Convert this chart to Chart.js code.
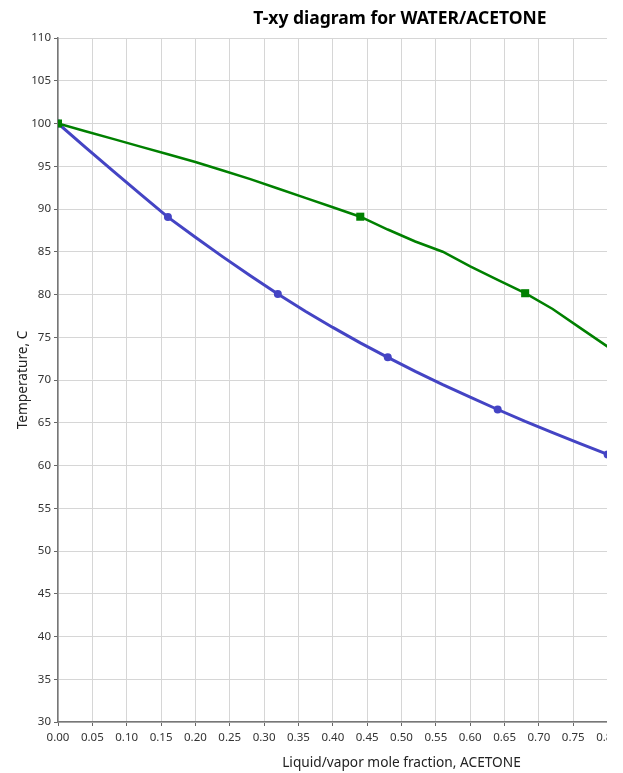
<!DOCTYPE html>
<html>
<head>
<meta charset="utf-8">
<title>T-xy diagram for WATER/ACETONE</title>
<script src="https://cdn.jsdelivr.net/npm/chart.js@4.4.1/dist/chart.umd.min.js"></script>
<style>
    html, body { margin: 0; padding: 0; background: #fff; overflow: hidden; }
    /* the original picture is cut off just right of x = 0.80 */
    #clip { width: 607px; height: 773px; overflow: hidden; }
    #chart-box { width: 800px; height: 773px; }
</style>
</head>
<body>
<div id="clip"><div id="chart-box"><canvas id="txy_chart" width="800" height="773"></canvas></div></div>
<script>
// liquid (bubble point) curve
const liquidX = [0.00, 0.04, 0.08, 0.12, 0.16, 0.20, 0.24, 0.28, 0.32, 0.36, 0.40,
                 0.44, 0.48, 0.52, 0.56, 0.60, 0.64, 0.68, 0.72, 0.76, 0.80];
const liquidT = [100.0, 97.2, 94.45, 91.75, 89.05, 86.7, 84.4, 82.2, 80.05, 78.05, 76.15,
                 74.35, 72.65, 71.0, 69.45, 68.0, 66.55, 65.15, 63.85, 62.55, 61.3];
const liquidMarkers = [0, 4, 8, 12, 16, 20];

// vapor (dew point) curve
const vaporX = [0.00, 0.04, 0.08, 0.12, 0.16, 0.20, 0.24, 0.28, 0.32, 0.36, 0.40,
                0.44, 0.48, 0.52, 0.56, 0.60, 0.64, 0.68, 0.72, 0.76, 0.80];
const vaporT = [100.0, 99.1, 98.2, 97.3, 96.4, 95.5, 94.5, 93.5, 92.4, 91.3, 90.2,
                89.1, 87.6, 86.2, 85.0, 83.3, 81.7, 80.15, 78.3, 76.1, 73.9];
const vaporMarkers = [0, 11, 17];

// axes
const xMin = 0, xMax = 1, xStep = 0.05;
const yMin = 30, yMax = 110, yStep = 5;

const FONT = "'Noto Sans', 'Open Sans', sans-serif";

const toPoints = (xs, ts) => xs.map((x, i) => ({ x: x, y: ts[i] }));

const onload = () => {
    const ctx = document.getElementById("txy_chart").getContext("2d");
    new Chart(ctx, {
        type: "scatter",
        data: {
            datasets: [{
                label: "Liquid",
                data: toPoints(liquidX, liquidT),
                showLine: true,
                order: 1,
                borderColor: "rgb(68, 68, 196)",
                backgroundColor: "rgb(68, 68, 196)",
                borderWidth: 3,
                pointStyle: "circle",
                pointRadius: c => liquidMarkers.includes(c.dataIndex) ? 4 : 0,
                pointBorderWidth: 0
            }, {
                label: "Vapor",
                data: toPoints(vaporX, vaporT),
                showLine: true,
                order: 0,
                borderColor: "rgb(0, 128, 0)",
                backgroundColor: "rgb(0, 128, 0)",
                borderWidth: 2.5,
                pointStyle: "rect",
                pointRadius: c => vaporMarkers.includes(c.dataIndex) ? 5.7 : 0,
                pointBorderWidth: 0
            }]
        },
        options: {
            responsive: false,
            animation: false,
            layout: { padding: 0 },
            plugins: {
                legend: { display: false },
                tooltip: { enabled: false },
                title: {
                    display: true,
                    text: "T-xy diagram for WATER/ACETONE",
                    color: "#000",
                    font: { family: FONT, size: 17.5, weight: "bold" },
                    padding: { top: 9, bottom: 8 }
                }
            },
            scales: {
                x: {
                    type: "linear",
                    min: xMin,
                    max: xMax,
                    afterFit: scale => {
                        scale.height = 51;
                        scale.paddingRight = 55;
                    },
                    ticks: {
                        stepSize: xStep,
                        autoSkip: false,
                        maxRotation: 0,
                        padding: 5,
                        color: "#333",
                        font: { family: FONT, size: 11.5 },
                        callback: v => v.toFixed(2)
                    },
                    grid: {
                        color: "#d6d6d6",
                        tickColor: "#666",
                        tickLength: 4
                    },
                    border: { color: "#777", width: 1.5 },
                    title: {
                        display: true,
                        text: "Liquid/vapor mole fraction, ACETONE",
                        color: "#222",
                        font: { family: FONT, size: 13.7 },
                        padding: { top: 4, bottom: 2 }
                    }
                },
                y: {
                    type: "linear",
                    min: yMin,
                    max: yMax,
                    afterFit: scale => {
                        scale.width = 58;
                    },
                    ticks: {
                        stepSize: yStep,
                        autoSkip: false,
                        padding: 3,
                        color: "#333",
                        font: { family: FONT, size: 11.5 }
                    },
                    grid: {
                        color: "#d6d6d6",
                        tickColor: "#666",
                        tickLength: 4
                    },
                    border: { color: "#777", width: 1.5 },
                    title: {
                        display: true,
                        text: "Temperature, C",
                        color: "#222",
                        font: { family: FONT, size: 13.7 },
                        padding: { top: 15, bottom: 0 }
                    }
                }
            }
        }
    });
};

document.addEventListener("DOMContentLoaded", onload);
</script>
</body>
</html>
